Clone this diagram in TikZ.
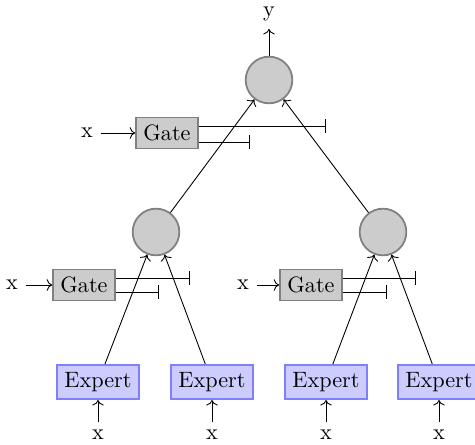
\documentclass[tikz,border=0pt]{standalone}
\usepackage{tikz}
\usetikzlibrary{arrows.meta}

\tikzset{
  expert/.style={rectangle, draw=blue!50, fill=blue!20, thick},
  gatebox/.style={rectangle, draw=gray, fill=gray!40, thick},
  mixer/.style={circle, draw=gray, fill=gray!40, thick, minimum size=21pt, inner sep=0pt},
  gateline/.style={-{Bar[width=6.5pt]}},
}

\begin{document}
\begin{tikzpicture}[x=0.45pt, y=0.45pt]
\useasboundingbox (0,0) rectangle (475,445);
% experts and their inputs
\node[expert] (e1) at (98,63) {Expert};
\node[expert] (e2) at (212,63) {Expert};
\node[expert] (e3) at (326,63) {Expert};
\node[expert] (e4) at (439,63) {Expert};
\node (x1) at (98,10) {x};
\node (x2) at (212,10) {x};
\node (x3) at (326,10) {x};
\node (x4) at (439,10) {x};
\draw[->] (x1) -- (e1);
\draw[->] (x2) -- (e2);
\draw[->] (x3) -- (e3);
\draw[->] (x4) -- (e4);
% mixing nodes
\node[mixer] (c1) at (156,213) {};
\node[mixer] (c2) at (383,213) {};
\node[mixer] (c0) at (269,365) {};
\node (y) at (269,431) {y};
\draw[->] (e1) -- (c1);
\draw[->] (e2) -- (c1);
\draw[->] (e3) -- (c2);
\draw[->] (e4) -- (c2);
\draw[->] (c1) -- (c0);
\draw[->] (c2) -- (c0);
\draw[->] (c0) -- (y);
% gates
\node[gatebox] (g0) at (167,312) {Gate};
\node[gatebox] (g1) at (84,160) {Gate};
\node[gatebox] (g2) at (311,160) {Gate};
\node (gx0) at (87,312) {x};
\node (gx1) at (12,160) {x};
\node (gx2) at (243,160) {x};
\draw[->] (gx0) -- (g0);
\draw[->] (gx1) -- (g1);
\draw[->] (gx2) -- (g2);
\coordinate (g0a) at (326,319);
\coordinate (g0b) at (250,303);
\coordinate (g1a) at (190,167);
\coordinate (g1b) at (159,153);
\coordinate (g2a) at (416,167);
\coordinate (g2b) at (387,153);
\draw[gateline] (g0.east |- g0a) -- (g0a);
\draw[gateline] (g0.east |- g0b) -- (g0b);
\draw[gateline] (g1.east |- g1a) -- (g1a);
\draw[gateline] (g1.east |- g1b) -- (g1b);
\draw[gateline] (g2.east |- g2a) -- (g2a);
\draw[gateline] (g2.east |- g2b) -- (g2b);
\end{tikzpicture}
\end{document}
